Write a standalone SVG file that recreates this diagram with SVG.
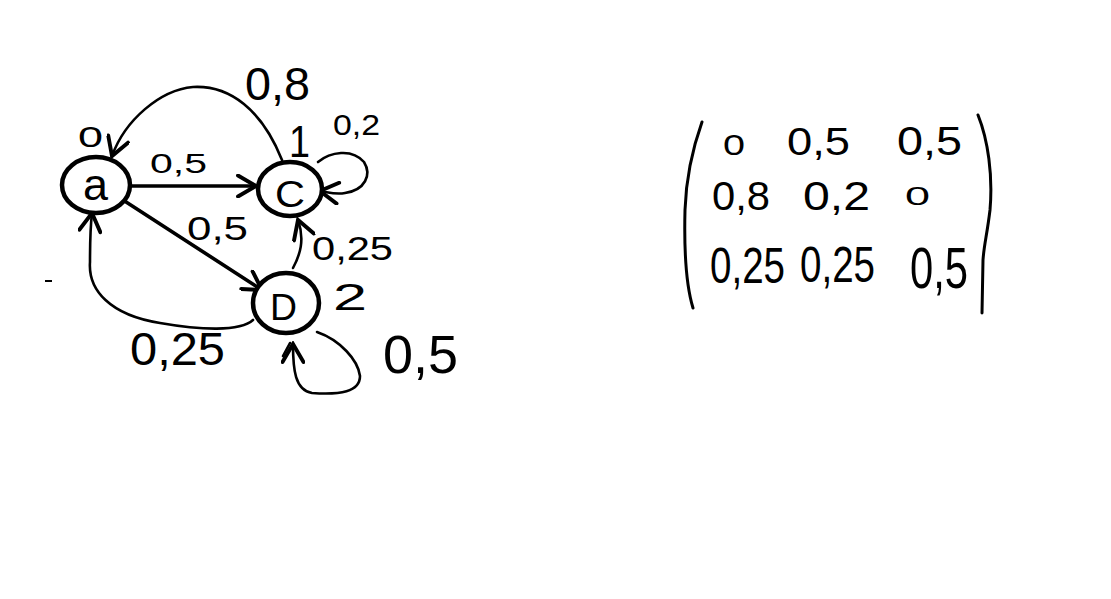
<svg xmlns="http://www.w3.org/2000/svg" width="1111" height="599" viewBox="0 0 1111 599">
<style>
.node{fill:#fff;stroke:#000;stroke-width:4.5}
.edge{fill:none;stroke:#000;stroke-width:2.6;stroke-linecap:round}
.thick{stroke-width:3.6}
.lbl{font-family:"Liberation Sans",Arial,sans-serif;fill:#000}
.br{fill:none;stroke:#000;stroke-width:3;stroke-linecap:round}
</style>
<defs>
<marker id="arr" markerUnits="userSpaceOnUse" markerWidth="24" markerHeight="24" refX="14" refY="8" orient="auto" viewBox="0 0 16 16">
<polyline points="2,1 14,8 2,15" fill="none" stroke="#000" stroke-width="2.6" stroke-linecap="round"/>
</marker>
</defs>
<rect width="1111" height="599" fill="#fff"/>
<g id="connectors">
<path class="edge thick" d="M131,186 L256,186" marker-end="url(#arr)"/>
<path class="edge thick" d="M123,200 L262,290" marker-end="url(#arr)"/>
<path class="edge" d="M282,160 C262,110 230,85 193,87 C160,90 125,120 112,156" marker-end="url(#arr)"/>
<path class="edge" d="M293,268 C300,255 305,240 298,220" marker-end="url(#arr)"/>
<path class="edge" d="M253,320 C240,332 200,330 160,323 C110,315 88,290 90,262 C90,245 90,230 92,213" marker-end="url(#arr)"/>
<path class="edge" d="M318,162 C330,152 352,148 364,162 C372,175 365,190 345,193 C335,195 328,192 320,191" marker-end="url(#arr)"/>
<path class="edge" d="M317,332 C340,340 358,360 360,376 C360,392 340,395 312,393 C295,390 293,370 293,344" marker-end="url(#arr)"/>
<path class="edge" d="M307,207 L322,193" stroke-width="4"/>
<path class="edge" d="M283,356 L290,343" stroke-width="3"/>
</g>
<g id="node-a">
<ellipse class="node" cx="96" cy="185" rx="34" ry="28"/>
<text class="lbl" x="83" y="200" font-size="44" textLength="25" lengthAdjust="spacingAndGlyphs">a</text>
</g>
<g id="node-C">
<ellipse class="node" cx="290" cy="189" rx="32" ry="27"/>
<text class="lbl" x="275" y="207" font-size="37" textLength="30" lengthAdjust="spacingAndGlyphs">C</text>
</g>
<g id="node-D">
<ellipse class="node" cx="286" cy="303" rx="33" ry="30"/>
<text class="lbl" x="270" y="320" font-size="37" textLength="27" lengthAdjust="spacingAndGlyphs">D</text>
</g>
<g id="labels">
<text class="lbl" x="78" y="147" font-size="30" textLength="25" lengthAdjust="spacingAndGlyphs">0</text>
<text class="lbl" x="289" y="157" font-size="44" textLength="21" lengthAdjust="spacingAndGlyphs">1</text>
<text class="lbl" x="333" y="310" font-size="37" textLength="34" lengthAdjust="spacingAndGlyphs">2</text>
<text class="lbl" x="245" y="100" font-size="46" textLength="65" lengthAdjust="spacingAndGlyphs">0,8</text>
<text class="lbl" x="333" y="135" font-size="30" textLength="47" lengthAdjust="spacingAndGlyphs">0,2</text>
<text class="lbl" x="150" y="173" font-size="28" textLength="57" lengthAdjust="spacingAndGlyphs">0,5</text>
<text class="lbl" x="187" y="240" font-size="34" textLength="61" lengthAdjust="spacingAndGlyphs">0,5</text>
<text class="lbl" x="312" y="260" font-size="34" textLength="81" lengthAdjust="spacingAndGlyphs">0,25</text>
<text class="lbl" x="130" y="365" font-size="46" textLength="95" lengthAdjust="spacingAndGlyphs">0,25</text>
<text class="lbl" x="383" y="373" font-size="54" textLength="75" lengthAdjust="spacingAndGlyphs">0,5</text>
</g>
<g id="matrix">
<path class="br" d="M702,122 C692,150 686,180 685,210 C684,250 686,285 693,308"/>
<path class="br" d="M978,115 C988,140 993,175 990,210 C987,235 984,245 983,260 L982,313"/>
<text class="lbl" x="723" y="155" font-size="30" textLength="22" lengthAdjust="spacingAndGlyphs">0</text>
<text class="lbl" x="787" y="155" font-size="38" textLength="63" lengthAdjust="spacingAndGlyphs">0,5</text>
<text class="lbl" x="897" y="155" font-size="40" textLength="65" lengthAdjust="spacingAndGlyphs">0,5</text>
<text class="lbl" x="712" y="210" font-size="40" textLength="58" lengthAdjust="spacingAndGlyphs">0,8</text>
<text class="lbl" x="803" y="210" font-size="40" textLength="67" lengthAdjust="spacingAndGlyphs">0,2</text>
<text class="lbl" x="905" y="205" font-size="25" textLength="25" lengthAdjust="spacingAndGlyphs">0</text>
<text class="lbl" x="710" y="283" font-size="50" textLength="75" lengthAdjust="spacingAndGlyphs">0,25</text>
<text class="lbl" x="800" y="282" font-size="50" textLength="75" lengthAdjust="spacingAndGlyphs">0,25</text>
<text class="lbl" x="910" y="288" font-size="58" textLength="58" lengthAdjust="spacingAndGlyphs">0,5</text>
</g>
<line x1="45" y1="281" x2="52" y2="281" stroke="#000" stroke-width="2"/>
</svg>
